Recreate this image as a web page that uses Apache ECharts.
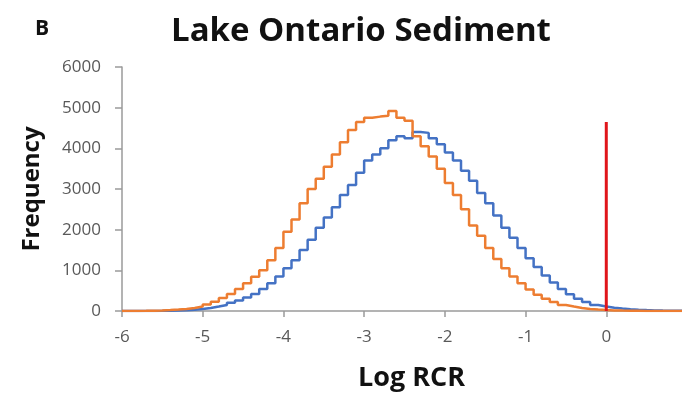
<!DOCTYPE html>
<html>
<head>
<meta charset="utf-8">
<script src="https://cdn.jsdelivr.net/npm/echarts@6/dist/echarts.min.js"></script>
<style>
  html, body { margin: 0; padding: 0; background: #fff; }
  #chart { width: 682px; height: 393px; }
</style>
</head>
<body>
<div id="chart"></div>
<script>
// Histogram bins of Log RCR: left edges from -6.0 in steps of 0.1
const binStart = -6.0;
const binWidth = 0.1;

// Frequency per bin, orange series
const orangeCounts = [
  0, 2, 4, 8, 14, 22, 34, 50, 75, 110,
  160, 230, 320, 420, 540, 680, 840, 1000, 1250, 1550,
  1950, 2250, 2650, 3000, 3250, 3550, 3850, 4150, 4450, 4650,
  4750, 4780, 4800, 4920, 4750, 4680, 4300, 4050, 3800, 3500,
  3150, 2850, 2500, 2100, 1850, 1550, 1280, 1050, 850, 680,
  530, 400, 300, 220, 150, 110, 75, 50, 35, 22,
  14, 10, 7, 5, 3, 2, 2, 1, 1, 0
];

// Frequency per bin, blue series
const blueCounts = [
  0, 0, 1, 2, 4, 7, 12, 20, 32, 50,
  75, 110, 150, 200, 260, 330, 420, 540, 680, 850,
  1050, 1250, 1500, 1750, 2050, 2300, 2550, 2850, 3100, 3400,
  3700, 3850, 4000, 4200, 4300, 4250, 4400, 4380, 4250, 4100,
  3900, 3700, 3450, 3200, 2900, 2650, 2350, 2050, 1800, 1550,
  1300, 1080, 870, 700, 540, 410, 300, 220, 150, 110,
  80, 60, 45, 32, 22, 15, 10, 7, 5, 3
];

// Threshold marker at Log RCR = 0
const thresholdX = 0;
const thresholdTop = 4650;

// Axis ticks
const xTicks = [-6, -5, -4, -3, -2, -1, 0, 1];
const yTicks = [0, 1000, 2000, 3000, 4000, 5000, 6000];

function toSteps(counts) {
  const pts = counts.map((v, i) => [+(binStart + i * binWidth).toFixed(2), v]);
  pts.push([+(binStart + counts.length * binWidth).toFixed(2), counts[counts.length - 1]]);
  return pts;
}

const FONT = '"Open Sans", "Liberation Sans", sans-serif';
const AXIS_GREY = '#9a9a9a';
const LABEL_GREY = '#595959';

const chart = echarts.init(document.getElementById('chart'), null, { renderer: 'canvas' });
chart.setOption({
  animation: false,
  backgroundColor: '#ffffff',
  title: [
    { text: 'B', left: 30, top: 14,
      textStyle: { fontFamily: FONT, fontWeight: 'bold', fontSize: 21, color: '#111' } },
    { text: 'Lake Ontario Sediment', left: 166, top: 10,
      textStyle: { fontFamily: FONT, fontWeight: 'bold', fontSize: 33, color: '#111' } }
  ],
  grid: { left: 122, right: -5, top: 67, bottom: 82, containLabel: false, outerBoundsMode: 'none' },
  xAxis: {
    type: 'value',
    min: xTicks[0], max: xTicks[xTicks.length - 1], interval: 1,
    name: 'Log RCR', nameLocation: 'middle', nameGap: 54,
    nameTextStyle: { fontFamily: FONT, fontWeight: 'bold', fontSize: 27, color: '#111',
      padding: [0, 0, 0, 14] },
    axisLine: { show: true, onZero: false, lineStyle: { color: AXIS_GREY, width: 1.5 } },
    axisTick: { show: true, length: 6, lineStyle: { color: AXIS_GREY, width: 1.5 } },
    axisLabel: { fontFamily: FONT, fontSize: 17, color: LABEL_GREY, margin: 18, showMaxLabel: false },
    splitLine: { show: false }
  },
  yAxis: {
    type: 'value',
    min: yTicks[0], max: yTicks[yTicks.length - 1], interval: 1000,
    name: 'Frequency', nameLocation: 'middle', nameGap: 78, nameRotate: 90,
    nameTextStyle: { fontFamily: FONT, fontWeight: 'bold', fontSize: 24, color: '#111' },
    axisLine: { show: true, onZero: false, lineStyle: { color: AXIS_GREY, width: 1.5 } },
    axisTick: { show: true, length: 7, lineStyle: { color: AXIS_GREY, width: 1.5 } },
    axisLabel: { fontFamily: FONT, fontSize: 17, color: LABEL_GREY, margin: 21,
      formatter: v => String(v) },
    splitLine: { show: false }
  },
  series: [
    {
      name: 'Blue', type: 'line', step: 'end', showSymbol: false, symbol: 'none',
      data: toSteps(blueCounts),
      lineStyle: { color: '#4472c4', width: 2.5 }, z: 2
    },
    {
      name: 'Orange', type: 'line', step: 'end', showSymbol: false, symbol: 'none',
      data: toSteps(orangeCounts),
      lineStyle: { color: '#ed7d31', width: 2.5 }, z: 3
    },
    {
      name: 'Threshold', type: 'line', showSymbol: false, symbol: 'none',
      data: [[thresholdX, 0], [thresholdX, thresholdTop]],
      lineStyle: { color: '#e0161b', width: 3 }, z: 4
    }
  ]
});
</script>
</body>
</html>
